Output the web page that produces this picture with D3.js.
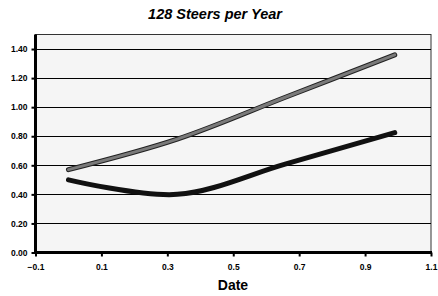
<!DOCTYPE html>
<html>
<head>
<meta charset="utf-8">
<script src="https://cdn.jsdelivr.net/npm/d3@7"></script>
<style>
  body { margin: 0; background: #fff; }
  text { font-family: "Liberation Sans", Arial, sans-serif; font-weight: bold; }
</style>
</head>
<body>
<div id="chart"></div>
<script>
var width = 438,
    height = 296;

// data
var dates = [0, 0.33, 0.66, 0.99];
var upperSeries = [0.57, 0.78, 1.07, 1.36];
var lowerSeries = [0.50, 0.40, 0.61, 0.825];
var xTicks = [-0.1, 0.1, 0.3, 0.5, 0.7, 0.9, 1.1];
var yTicks = [0, 0.2, 0.4, 0.6, 0.8, 1.0, 1.2, 1.4];

// plot area edges (window.top is reserved, so no "top" here)
var plotL = 35.5, plotR = 431, plotT = 34.5, plotB = 252.5;

var svg = d3.select("#chart").append("svg")
    .attr("width", width)
    .attr("height", height);

var x = d3.scaleLinear().domain([-0.1, 1.1]).range([plotL, plotR]);
var y = d3.scaleLinear().domain([0, 1.5]).range([plotB, plotT]);

// plot area
svg.append("rect")
    .attr("x", plotL).attr("y", plotT)
    .attr("width", plotR - plotL).attr("height", plotB - plotT)
    .attr("fill", "#f5f5f5")
    .attr("stroke", "#333")
    .attr("stroke-width", 1);

// gridlines
svg.append("g").selectAll("line")
    .data(yTicks.filter(function(d) { return d > 0; }))
    .enter().append("line")
    .attr("x1", plotL).attr("x2", plotR)
    .attr("y1", function(d) { return Math.round(y(d)) + 0.5; })
    .attr("y2", function(d) { return Math.round(y(d)) + 0.5; })
    .attr("stroke", "#000")
    .attr("stroke-width", 1);

// y axis
var yAxis = svg.append("g")
    .attr("transform", "translate(" + plotL + ",0)")
    .call(d3.axisLeft(y).tickValues(yTicks).tickFormat(d3.format(".2f")).tickSize(4).tickPadding(4));
yAxis.select(".domain").remove();
yAxis.selectAll(".tick line").attr("stroke-width", 2);
yAxis.selectAll("text").style("font-size", "8.5px").attr("fill", "#000");
svg.append("line")
    .attr("x1", plotL).attr("x2", plotL)
    .attr("y1", plotT).attr("y2", plotB + 1.5)
    .attr("stroke", "#000").attr("stroke-width", 3);

// x axis
var xAxis = svg.append("g")
    .attr("transform", "translate(0," + plotB + ")")
    .call(d3.axisBottom(x).tickValues(xTicks).tickFormat(d3.format(".1f")).tickSize(4).tickPadding(7));
xAxis.select(".domain").remove();
xAxis.selectAll(".tick line").attr("stroke-width", 2);
xAxis.selectAll("text").style("font-size", "8.5px").attr("fill", "#000");
svg.append("line")
    .attr("x1", plotL - 1.5).attr("x2", plotR + 1)
    .attr("y1", plotB).attr("y2", plotB)
    .attr("stroke", "#000").attr("stroke-width", 3);

// smoothed lines
var line = d3.line()
    .x(function(d, i) { return x(dates[i]); })
    .y(function(d) { return y(d); })
    .curve(d3.curveCatmullRom.alpha(0.5));

svg.append("path")
    .attr("d", line(lowerSeries))
    .attr("fill", "none")
    .attr("stroke", "#111")
    .attr("stroke-width", 5)
    .attr("stroke-linecap", "round");

svg.append("path")
    .attr("d", line(upperSeries))
    .attr("fill", "none")
    .attr("stroke", "#222")
    .attr("stroke-width", 5)
    .attr("stroke-linecap", "round");
svg.append("path")
    .attr("d", line(upperSeries))
    .attr("fill", "none")
    .attr("stroke", "#7a7a7a")
    .attr("stroke-width", 3)
    .attr("stroke-linecap", "round");

// title and axis label
svg.append("text")
    .attr("x", 215).attr("y", 19)
    .attr("text-anchor", "middle")
    .style("font-size", "14.5px")
    .style("font-style", "italic")
    .text("128 Steers per Year");

svg.append("text")
    .attr("x", 233).attr("y", 290)
    .attr("text-anchor", "middle")
    .style("font-size", "14px")
    .text("Date");
</script>
</body>
</html>
